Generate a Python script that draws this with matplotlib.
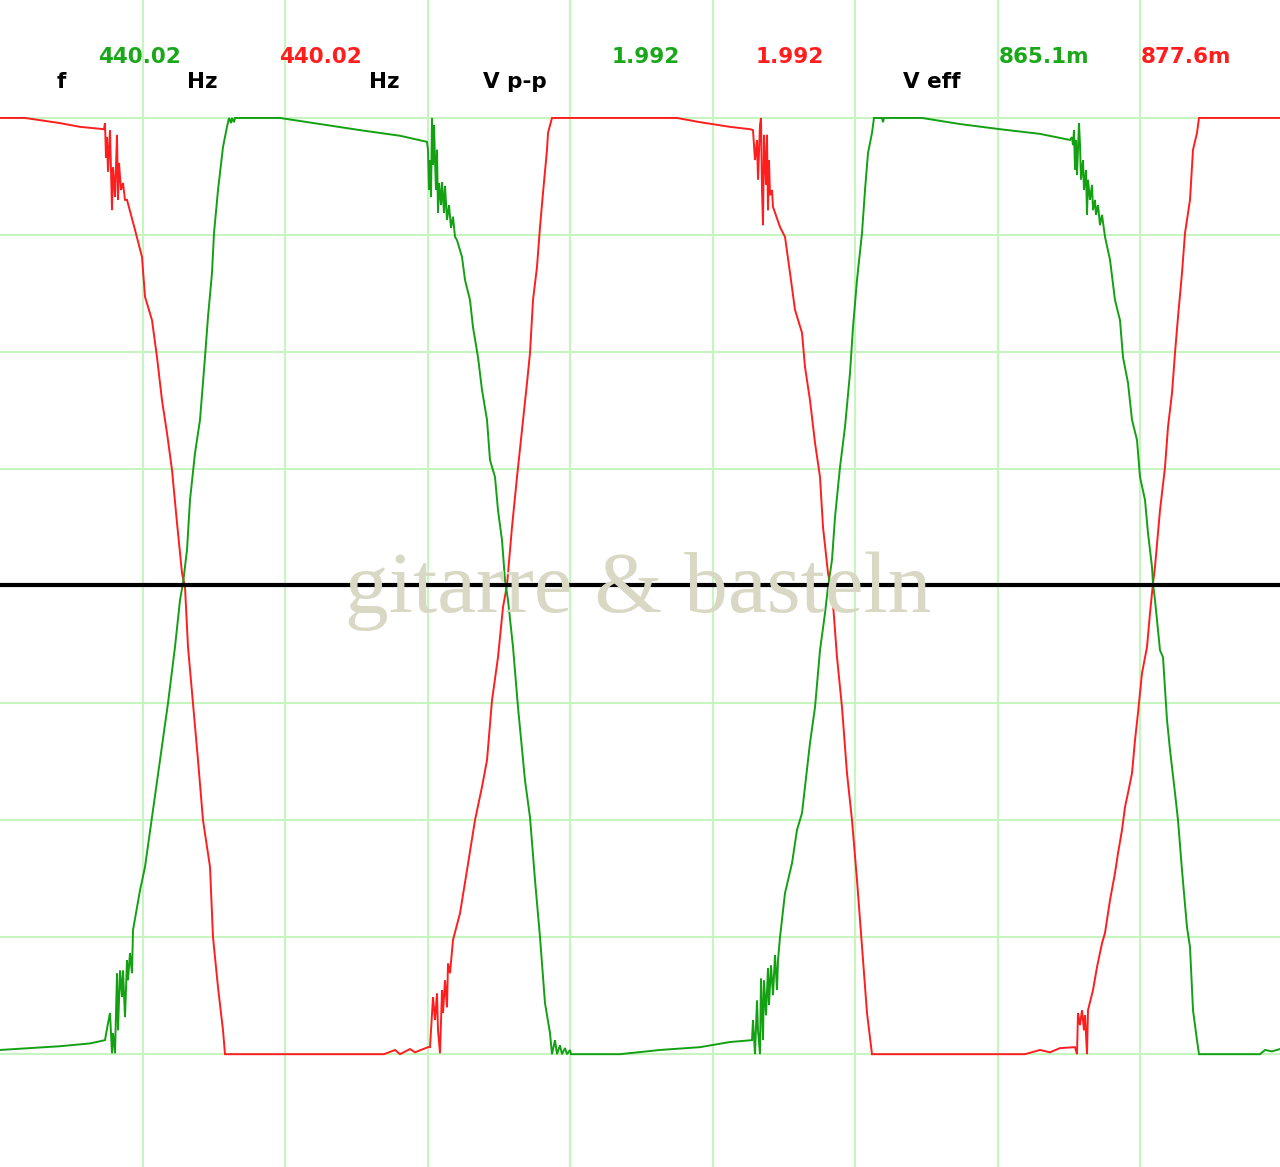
import matplotlib
matplotlib.use("Agg")
import matplotlib.pyplot as plt
import numpy as np

# ---------------- data (sample index, level in mV) ----------------
# 1 sample = 0.5 ms / 142.5 ; vertical 250 mV / div
SAMPLE_MS = 0.5 / 142.5
N_SAMPLES = 1280

red_trace = [
    (0, 1000), (25, 1000), (60, 989), (80, 981), (104, 976),
    (105, 989), (106, 915), (107, 959), (108, 885), (110, 974), (112, 803), (113, 895), (115, 831),
    (117, 964), (118, 825), (119, 904), (121, 846), (123, 861), (125, 825),
    (127, 825), (135, 761), (142, 703), (145, 618), (152, 568), (157, 489), (162, 397), (167, 327),
    (172, 248), (177, 135), (182, 28), (185, -2), (188, -130), (193, -250), (198, -372), (203, -500),
    (210, -600), (213, -750), (218, -857), (223, -949), (225, -1000),
    (384, -1000), (395, -991), (400, -1000), (410, -989), (415, -996), (428, -985),
    (430, -985), (431, -949), (433, -878), (435, -927), (437, -870), (438, -949), (440, -998),
    (442, -863), (443, -912), (445, -842), (447, -900), (448, -806), (450, -827), (452, -778),
    (453, -756), (460, -699), (467, -607), (475, -500), (482, -429), (487, -372), (492, -244),
    (498, -152), (503, -45), (507, 2), (512, 126), (517, 233), (522, 333), (527, 434), (530, 498),
    (533, 611), (537, 682), (540, 767), (543, 840), (547, 932), (548, 968), (552, 1000),
    (677, 1000), (700, 991), (730, 981), (750, 976), (753, 974),
    (755, 910), (757, 953), (758, 868), (760, 985), (761, 1000), (762, 846), (763, 771), (764, 964),
    (766, 857), (767, 964), (768, 803), (769, 910), (770, 835), (772, 846),
    (773, 810), (780, 767), (785, 746), (790, 669), (795, 590), (802, 541), (805, 468), (810, 397),
    (815, 306), (820, 233), (823, 126), (828, 28), (830, 6), (832, -9), (837, -152), (842, -259),
    (847, -400), (852, -500), (857, -628), (862, -771), (867, -912), (872, -1000),
    (1025, -1000), (1040, -991), (1050, -996), (1060, -987), (1075, -985),
    (1077, -1000), (1078, -912), (1080, -938), (1082, -906), (1084, -949), (1085, -917),
    (1087, -1000), (1088, -906),
    (1093, -863), (1097, -814), (1102, -763), (1105, -741), (1110, -671), (1115, -613), (1118, -571),
    (1122, -521), (1125, -472), (1128, -442), (1132, -400), (1135, -329), (1138, -271), (1142, -186),
    (1147, -130), (1150, -58), (1153, 6), (1155, 41), (1160, 162), (1165, 254), (1168, 340),
    (1172, 412), (1175, 498), (1178, 575), (1182, 669), (1185, 754), (1190, 825), (1193, 932),
    (1197, 968), (1199, 1000), (1280, 1000),
]

green_trace = [
    (0, -991), (30, -987), (60, -983), (90, -977), (105, -970),
    (108, -934), (110, -912), (112, -998), (113, -955), (115, -998), (117, -827), (118, -949),
    (120, -821), (122, -878), (123, -821), (125, -921), (127, -799), (128, -842), (130, -784),
    (132, -827), (133, -735),
    (140, -650), (145, -600), (152, -494), (160, -372), (168, -250), (175, -130), (180, -30),
    (183, 6), (187, 77), (190, 184), (195, 284), (200, 355), (205, 489), (208, 575), (212, 669),
    (214, 754), (218, 846), (223, 938), (227, 981), (229, 1000), (231, 989), (232, 1000),
    (234, 991), (235, 1000),
    (280, 1000), (320, 987), (360, 974), (400, 962), (427, 949),
    (428, 932), (429, 846), (430, 910), (431, 831), (432, 1000), (433, 900), (434, 985), (435, 910),
    (436, 846), (437, 932), (438, 797), (439, 861), (441, 814), (442, 863), (444, 797), (445, 855),
    (447, 782), (449, 814), (451, 765), (453, 789), (455, 746),
    (457, 739), (462, 703), (465, 654), (470, 611), (473, 553), (478, 489), (482, 419), (487, 355),
    (490, 269), (495, 233), (498, 162), (502, 98), (505, 13), (508, -30), (513, -130), (518, -259),
    (525, -415), (530, -494), (535, -628), (540, -750), (545, -891), (550, -955), (552, -1000),
    (555, -970), (557, -1000), (560, -981), (562, -1000), (565, -987), (567, -1000), (570, -991),
    (571, -1000),
    (620, -1000), (660, -991), (700, -985), (730, -974), (752, -970),
    (753, -927), (755, -1000), (757, -885), (758, -949), (760, -1000), (761, -838), (763, -970),
    (764, -842), (766, -917), (768, -816), (769, -895), (771, -810), (773, -874), (775, -788),
    (777, -863), (778, -799),
    (780, -750), (785, -656), (792, -592), (797, -521), (802, -485), (805, -429), (810, -335),
    (815, -259), (820, -137), (825, -58), (828, -2), (832, 56), (835, 147), (840, 254), (845, 340),
    (850, 455), (853, 553), (857, 654), (862, 754), (865, 846), (868, 925), (872, 968), (874, 1000),
    (882, 1000), (883, 991), (884, 1000),
    (922, 1000), (960, 987), (1000, 976), (1040, 966), (1070, 953),
    (1072, 959), (1073, 942), (1074, 974), (1075, 889), (1076, 953), (1077, 878), (1079, 989),
    (1080, 942), (1081, 868), (1083, 910), (1084, 846), (1086, 889), (1087, 793), (1088, 868),
    (1090, 825), (1092, 857), (1093, 803), (1095, 825), (1096, 793), (1098, 814), (1100, 771),
    (1102, 793), (1105, 746),
    (1110, 697), (1115, 611), (1120, 568), (1123, 489), (1128, 434), (1132, 355), (1137, 312),
    (1140, 233), (1145, 184), (1148, 113), (1152, 41), (1153, 6), (1155, -30), (1160, -137),
    (1163, -152), (1167, -286), (1170, -350), (1175, -442), (1178, -500), (1182, -607),
    (1187, -729), (1190, -771), (1193, -906), (1197, -970), (1199, -1000),
    (1260, -1000), (1265, -991), (1272, -994), (1280, -989),
]

label_names = ["f", "Hz", "Hz", "V p-p", "V eff"]
green_values = ["440.02", "1.992", "865.1m"]
red_values = ["440.02", "1.992", "877.6m"]
watermark = "gitarre & basteln"

# ---------------- style ----------------
W, H = 1280, 1167
RED = "#ff1e1e"
GREEN = "#13a013"
TXT_GREEN = "#1aa81a"
GRID = "#c6f5c0"

fig = plt.figure(figsize=(W / 100, H / 100), dpi=100)
ax = fig.add_axes([0, 0, 1, 1])
ax.set_facecolor("white")

# axis ranges: time in ms, voltage in mV
x_max = N_SAMPLES * SAMPLE_MS
ax.set_xlim(0, x_max)
ax.set_ylim(-1241, 1252)

# grid
for k in range(1, 9):
    ax.axvline(k * 0.5, color=GRID, lw=1.5, zorder=1)
for v in [-1000, -750, -500, -250, 0, 250, 500, 750, 1000]:
    ax.axhline(v, color=GRID, lw=1.5, zorder=1)

# traces
rt = np.array(red_trace, dtype=float)
gt = np.array(green_trace, dtype=float)
ax.plot(rt[:, 0] * SAMPLE_MS, rt[:, 1], color=RED, lw=1.4, zorder=4, solid_joinstyle="miter")
ax.plot(gt[:, 0] * SAMPLE_MS, gt[:, 1], color=GREEN, lw=1.4, zorder=4, solid_joinstyle="miter")

# center line
ax.axhline(3, color="black", lw=3.0, zorder=5)

ax.set_xticks([])
ax.set_yticks([])
for s in ax.spines.values():
    s.set_visible(False)


def ftext(px, py, s, color, size=15.5, **kw):
    return fig.text(px / W, 1 - py / H, s, color=color, fontsize=size,
                    fontweight="bold", family="DejaVu Sans", ha="left",
                    va="baseline", **kw)


# labels (black)
name_pos = [(57, 88), (187, 88), (369, 88), (483, 88), (903, 88)]
for (px, py), s in zip(name_pos, label_names):
    ftext(px, py, s, "black")

green_pos = [(98, 63), (612, 63), (999, 63)]
red_pos = [(279, 63), (756, 63), (1141, 63)]
for (px, py), s in zip(green_pos, green_values):
    ftext(px, py, s, TXT_GREEN)
for (px, py), s in zip(red_pos, red_values):
    ftext(px, py, s, RED)

# watermark
wm = fig.text(345 / W, 1 - 612 / H, watermark, color="#d8d8c4", fontsize=60,
              family="Liberation Serif", ha="left", va="baseline", zorder=3)
fig.canvas.draw()
ext = wm.get_window_extent()
wm.set_fontsize(60 * 587 / ext.width)

fig.savefig("out.png", dpi=100, facecolor="white")
